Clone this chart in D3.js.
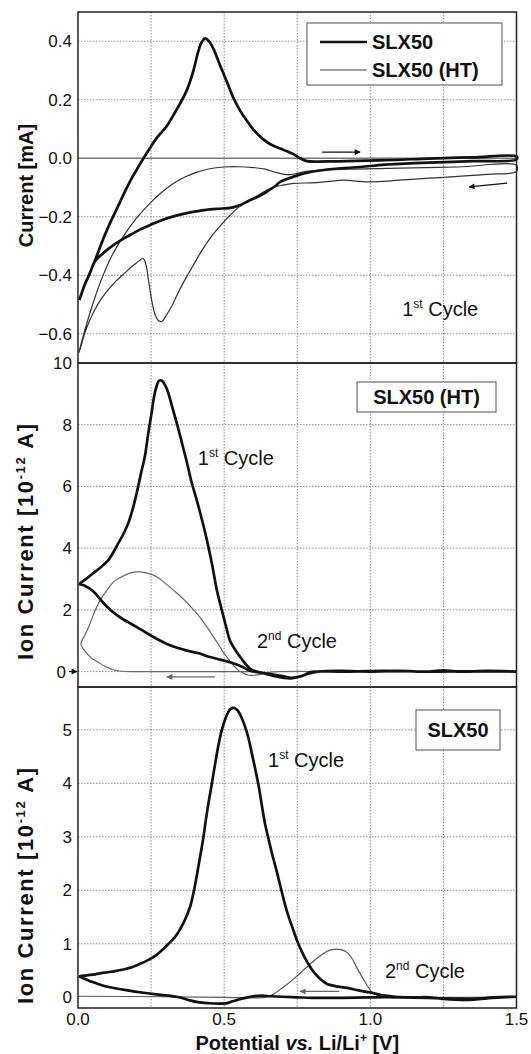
<!DOCTYPE html>
<html>
<head>
<meta charset="utf-8">
<script src="https://cdnjs.cloudflare.com/ajax/libs/d3/7.8.5/d3.min.js"></script>
<style>
  body { margin: 0; background: #fff; }
  text { font-family: "Liberation Sans", Arial, Helvetica, sans-serif; fill: #111; }
</style>
</head>
<body>
<svg id="main-svg"></svg>
<script>
// ---- data: [potential V, value] ----
let xTicks = [0, 0.5, 1.0, 1.5];
let xGrid = [0.25, 0.5, 0.75, 1.0, 1.25];

let cvTicks = [0.4, 0.2, 0.0, -0.2, -0.4, -0.6];
let ionHTTicks = [0, 2, 4, 6, 8, 10];
let ionSLXTicks = [0, 1, 2, 3, 4, 5];

// top panel, cyclic voltammograms (mA)
let cvSLX50 = [
  [0.005, -0.485], [0.02, -0.44], [0.035, -0.405], [0.058, -0.35], [0.075, -0.305], [0.092, -0.262],
  [0.115, -0.21], [0.138, -0.162], [0.16, -0.115], [0.184, -0.068], [0.205, -0.032], [0.224, 0.0],
  [0.245, 0.033], [0.264, 0.062], [0.285, 0.088], [0.304, 0.11], [0.325, 0.145], [0.348, 0.185],
  [0.372, 0.232], [0.395, 0.3], [0.41, 0.36], [0.422, 0.395], [0.435, 0.41], [0.448, 0.4],
  [0.463, 0.375], [0.485, 0.32], [0.509, 0.262], [0.53, 0.21], [0.555, 0.162], [0.58, 0.125],
  [0.6, 0.098], [0.63, 0.068], [0.658, 0.048], [0.692, 0.033], [0.715, 0.024], [0.737, 0.014],
  [0.76, 0.0], [0.783, -0.01], [0.85, -0.011], [0.95, -0.009], [1.08, -0.006], [1.2, -0.001],
  [1.35, 0.003], [1.5, 0.006],
  [1.5, -0.004], [1.35, -0.01], [1.2, -0.015], [1.05, -0.022], [0.966, -0.03], [0.88, -0.036],
  [0.795, -0.047], [0.74, -0.062], [0.692, -0.081], [0.675, -0.095], [0.64, -0.118], [0.61, -0.134],
  [0.583, -0.146], [0.555, -0.16], [0.526, -0.169], [0.475, -0.173], [0.424, -0.178], [0.38, -0.186],
  [0.332, -0.197], [0.29, -0.21], [0.252, -0.226], [0.21, -0.245], [0.172, -0.266], [0.135, -0.288],
  [0.104, -0.31], [0.08, -0.33], [0.058, -0.352], [0.04, -0.395], [0.02, -0.44], [0.005, -0.485]
];

let cvSLX50HT = [
  [0.003, -0.665], [0.02, -0.6], [0.05, -0.5], [0.08, -0.415], [0.115, -0.335], [0.15, -0.275],
  [0.2, -0.205], [0.25, -0.15], [0.3, -0.105], [0.35, -0.072], [0.4, -0.05], [0.45, -0.036],
  [0.5, -0.03], [0.55, -0.029], [0.6, -0.032], [0.64, -0.037], [0.675, -0.048], [0.7, -0.054],
  [0.726, -0.056], [0.75, -0.052], [0.78, -0.045], [0.85, -0.04], [0.95, -0.037], [1.1, -0.034],
  [1.3, -0.03], [1.5, -0.024],
  [1.5, -0.045], [1.4, -0.055], [1.3, -0.062], [1.19, -0.069], [1.1, -0.075], [1.0, -0.081],
  [0.95, -0.078], [0.91, -0.075], [0.85, -0.08], [0.8, -0.084], [0.737, -0.086], [0.7, -0.092],
  [0.658, -0.103], [0.62, -0.125], [0.583, -0.145], [0.549, -0.168], [0.52, -0.195], [0.492, -0.225],
  [0.458, -0.265], [0.424, -0.315], [0.395, -0.365], [0.366, -0.415], [0.34, -0.465], [0.32, -0.507],
  [0.3, -0.54], [0.287, -0.558], [0.275, -0.555], [0.264, -0.535], [0.255, -0.5], [0.247, -0.455],
  [0.24, -0.41], [0.235, -0.375], [0.228, -0.35], [0.222, -0.342], [0.21, -0.35], [0.2, -0.358],
  [0.184, -0.37], [0.161, -0.392], [0.13, -0.42], [0.104, -0.449], [0.08, -0.48], [0.058, -0.517],
  [0.04, -0.555], [0.024, -0.596], [0.007, -0.655]
];

// middle panel, SLX50 (HT) ion current (1e-12 A)
let ionHT1st = [
  [1.5, 0.0], [1.4, 0.02], [1.3, 0.0], [1.25, 0.04], [1.2, 0.0], [1.1, 0.02], [1.0, 0.0], [0.9, 0.02],
  [0.82, 0.0], [0.79, -0.06], [0.76, -0.16], [0.73, -0.22], [0.7, -0.2], [0.66, -0.12], [0.63, -0.04],
  [0.61, 0.0], [0.589, 0.09], [0.57, 0.28], [0.555, 0.47], [0.535, 0.75], [0.52, 1.0], [0.508, 1.4],
  [0.498, 1.77], [0.485, 2.25], [0.475, 2.64], [0.458, 3.5], [0.44, 4.3], [0.424, 4.92], [0.405, 5.6],
  [0.389, 6.12], [0.372, 6.8], [0.355, 7.43], [0.338, 8.05], [0.321, 8.62], [0.308, 9.05], [0.298, 9.28],
  [0.288, 9.42], [0.281, 9.44], [0.275, 9.4], [0.27, 9.28], [0.262, 9.0], [0.252, 8.4], [0.24, 7.7],
  [0.229, 6.99], [0.215, 6.4], [0.201, 5.79], [0.188, 5.3], [0.172, 4.81], [0.155, 4.45], [0.138, 4.16],
  [0.12, 3.85], [0.104, 3.61], [0.08, 3.4], [0.058, 3.23], [0.03, 3.02], [0.005, 2.83],
  [0.02, 2.8], [0.052, 2.6], [0.08, 2.3], [0.11, 2.0], [0.15, 1.72], [0.2, 1.45], [0.258, 1.12],
  [0.315, 0.85], [0.372, 0.68], [0.41, 0.6], [0.452, 0.47], [0.49, 0.38], [0.52, 0.3], [0.555, 0.18],
  [0.589, 0.03], [0.62, -0.03], [0.658, -0.08], [0.7, -0.15], [0.726, -0.2], [0.75, -0.18], [0.77, -0.13],
  [0.79, -0.03], [0.81, 0.0], [0.9, 0.0], [1.05, 0.02], [1.2, 0.0], [1.35, 0.01], [1.5, 0.0]
];

let ionHT2nd = [
  [1.5, 0.0], [1.2, 0.0], [0.9, 0.0], [0.7, 0.0], [0.66, -0.02], [0.63, -0.08], [0.6, -0.12], [0.585, -0.12],
  [0.565, -0.05], [0.55, 0.03], [0.532, 0.2], [0.515, 0.4], [0.497, 0.62], [0.486, 0.8], [0.465, 1.1],
  [0.441, 1.45], [0.418, 1.75], [0.4, 1.95], [0.384, 2.12], [0.355, 2.4], [0.326, 2.64], [0.3, 2.85],
  [0.269, 3.07], [0.24, 3.18], [0.212, 3.23], [0.19, 3.22], [0.167, 3.15], [0.145, 3.05], [0.121, 2.9],
  [0.1, 2.65], [0.075, 2.3], [0.055, 1.9], [0.041, 1.55], [0.025, 1.2], [0.01, 0.9], [0.025, 0.65],
  [0.045, 0.45], [0.07, 0.3], [0.09, 0.18], [0.12, 0.06], [0.15, 0.01], [0.2, 0.0], [0.4, 0.0], [0.6, 0.0]
];

// bottom panel, SLX50 ion current (1e-12 A)
let ionSLX1st = [
  [1.5, 0.01], [1.45, 0.0], [1.4, -0.02], [1.33, -0.05], [1.25, -0.03], [1.2, 0.0], [1.15, 0.0],
  [1.086, 0.01], [1.05, 0.03], [1.0, 0.09], [0.96, 0.13], [0.92, 0.175], [0.88, 0.21], [0.852, 0.25],
  [0.825, 0.36], [0.8, 0.52], [0.78, 0.7], [0.766, 0.85], [0.75, 1.05], [0.737, 1.25], [0.715, 1.6],
  [0.698, 1.95], [0.68, 2.35], [0.663, 2.7], [0.65, 3.0], [0.64, 3.24], [0.63, 3.55], [0.618, 3.95],
  [0.605, 4.3], [0.595, 4.55], [0.583, 4.85], [0.572, 5.05], [0.56, 5.22], [0.549, 5.34], [0.54, 5.39],
  [0.532, 5.41], [0.522, 5.39], [0.515, 5.34], [0.505, 5.22], [0.492, 5.0], [0.48, 4.7], [0.469, 4.36],
  [0.458, 4.0], [0.446, 3.62], [0.437, 3.3], [0.429, 2.99], [0.42, 2.7], [0.412, 2.45], [0.404, 2.2],
  [0.395, 1.95], [0.384, 1.7], [0.366, 1.45], [0.35, 1.28], [0.332, 1.13], [0.31, 1.0], [0.287, 0.88],
  [0.265, 0.78], [0.241, 0.7], [0.21, 0.62], [0.184, 0.56], [0.155, 0.52], [0.127, 0.49], [0.09, 0.46],
  [0.058, 0.43], [0.03, 0.41], [0.005, 0.39],
  [0.03, 0.33], [0.058, 0.27], [0.09, 0.21], [0.127, 0.17], [0.17, 0.13], [0.218, 0.09], [0.26, 0.06],
  [0.309, 0.03], [0.345, 0.0], [0.378, -0.05], [0.41, -0.09], [0.446, -0.11], [0.48, -0.12], [0.51, -0.11],
  [0.526, -0.08], [0.55, -0.04], [0.572, -0.01], [0.6, 0.02], [0.629, 0.03], [0.66, 0.02], [0.698, 0.01],
  [0.75, 0.0], [0.8, -0.01], [0.9, -0.01], [1.0, 0.0], [1.1, 0.0], [1.2, -0.01], [1.3, -0.03],
  [1.36, -0.03], [1.42, 0.0], [1.5, 0.01]
];

let ionSLX2nd = [
  [1.5, 0.0], [1.2, 0.0], [1.1, 0.0], [1.05, 0.01], [1.03, 0.03], [1.01, 0.07], [0.994, 0.18],
  [0.975, 0.35], [0.954, 0.55], [0.937, 0.73], [0.92, 0.84], [0.9, 0.89], [0.886, 0.9], [0.87, 0.89],
  [0.852, 0.86], [0.83, 0.78], [0.806, 0.68], [0.79, 0.6], [0.76, 0.45], [0.737, 0.34], [0.71, 0.22],
  [0.685, 0.12], [0.663, 0.04], [0.64, 0.0], [0.5, 0.0], [0.3, 0.01], [0.0, 0.02]
];

// ---- layout ----
let width = 531;
let height = 1054;
let left = 78;
let right = 516.5;

let svg = d3.select('#main-svg')
  .attr('width', width)
  .attr('height', height);

let x = d3.scaleLinear().domain([0, 1.5]).range([left, right]);
let line = d3.line()
  .x(d => x(d[0]))
  .y(d => d[1])
  .curve(d3.curveCatmullRom.alpha(0.5));

let panels = [
  { top: 12, bottom: 363, domain: [-0.7, 0.5], ticks: cvTicks, fmt: d3.format('.1f') },
  { top: 363, bottom: 687, domain: [-0.5, 10], ticks: ionHTTicks, fmt: d3.format('d') },
  { top: 687, bottom: 1008, domain: [-0.2, 5.8], ticks: ionSLXTicks, fmt: d3.format('d') }
];
panels.forEach(p => {
  p.y = d3.scaleLinear().domain(p.domain).range([p.bottom, p.top]);
});

let defs = svg.append('defs');
[['arrowBlack', '#111'], ['arrowGray', '#666']].forEach(([id, c]) => {
  defs.append('marker')
    .attr('id', id)
    .attr('viewBox', '0 0 10 10')
    .attr('refX', 9).attr('refY', 5)
    .attr('markerWidth', 9).attr('markerHeight', 6)
    .attr('markerUnits', 'userSpaceOnUse')
    .attr('orient', 'auto')
    .append('path').attr('d', 'M0,0 L10,5 L0,10 z').attr('fill', c);
});

function drawGrid(p) {
  let g = svg.append('g');
  g.selectAll('.vg').data(xGrid).enter().append('line')
    .attr('x1', d => x(d)).attr('x2', d => x(d))
    .attr('y1', p.top).attr('y2', p.bottom)
    .style('stroke', '#8a8a8a').style('stroke-width', 1).style('stroke-dasharray', '1.5,1.5');
  g.selectAll('.hg').data(p.ticks.filter(t => t !== 0 && p.y(t) > p.top + 2)).enter().append('line')
    .attr('x1', left).attr('x2', right)
    .attr('y1', d => p.y(d)).attr('y2', d => p.y(d))
    .style('stroke', '#8a8a8a').style('stroke-width', 1).style('stroke-dasharray', '1.5,1.5');
}

function drawAxis(p, zeroMarker) {
  let axis = d3.axisLeft(p.y).tickValues(p.ticks).tickSize(0).tickPadding(6).tickFormat(p.fmt);
  let g = svg.append('g').attr('transform', `translate(${left},0)`).call(axis);
  g.select('.domain').remove();
  g.selectAll('text').style('font-size', '17px').style('font-family', '"Liberation Sans", Arial, sans-serif').attr('fill', '#111');
  if (zeroMarker) {
    g.selectAll('.tick').filter(d => d === 0).select('text').attr('x', -12);
  }
}

function drawFrame(p) {
  svg.append('rect')
    .attr('x', left).attr('y', p.top)
    .attr('width', right - left).attr('height', p.bottom - p.top)
    .style('fill', 'none').style('stroke', '#222').style('stroke-width', 1.5);
}

function drawSeries(p, data, style) {
  svg.append('path')
    .datum(data.map(d => [d[0], p.y(d[1])]))
    .attr('d', line)
    .style('fill', 'none')
    .style('stroke', style.color)
    .style('stroke-width', style.width)
    .style('stroke-linejoin', 'round');
}

function drawArrow(p, from, to, marker, color) {
  svg.append('line')
    .attr('x1', x(from[0])).attr('y1', p.y(from[1]))
    .attr('x2', x(to[0])).attr('y2', p.y(to[1]))
    .style('stroke', color).style('stroke-width', 1.3)
    .attr('marker-end', `url(#${marker})`);
}

function cycleLabel(p, pos, num, sup) {
  let t = svg.append('text')
    .attr('x', x(pos[0])).attr('y', p.y(pos[1]))
    .style('font-size', '20px');
  t.append('tspan').text(num);
  t.append('tspan').attr('dy', -8).style('font-size', '12px').text(sup);
  t.append('tspan').attr('dy', 8).text(' Cycle');
}

function boxLabel(p, bx, by, bw, bh, label) {
  svg.append('rect')
    .attr('x', bx).attr('y', p.top + by).attr('width', bw).attr('height', bh)
    .style('fill', '#fff').style('stroke', '#777').style('stroke-width', 1.3);
  svg.append('text')
    .attr('x', bx + bw / 2).attr('y', p.top + by + bh / 2 + 7)
    .attr('text-anchor', 'middle')
    .style('font-size', '20px').style('font-weight', 'bold')
    .text(label);
}

let thick = { color: '#111', width: 2.7 };

// ---- top panel ----
let p1 = panels[0];
drawGrid(p1);
svg.append('line')
  .attr('x1', left).attr('x2', right).attr('y1', p1.y(0)).attr('y2', p1.y(0))
  .style('stroke', '#777').style('stroke-width', 1.3);
drawSeries(p1, cvSLX50HT, { color: '#333', width: 1.2 });
drawSeries(p1, cvSLX50, thick);
drawArrow(p1, [0.835, 0.021], [0.965, 0.021], 'arrowBlack', '#111');
drawArrow(p1, [1.468, -0.085], [1.338, -0.098], 'arrowBlack', '#111');
cycleLabel(p1, [1.109, -0.539], '1', 'st');

// legend
let lg = svg.append('g');
lg.append('rect').attr('x', 307).attr('y', 23).attr('width', 195).attr('height', 62)
  .style('fill', '#fff').style('stroke', '#777').style('stroke-width', 1.3);
[['SLX50', thick, 42], ['SLX50 (HT)', { color: '#444', width: 1.2 }, 70]].forEach(([name, st, yy]) => {
  lg.append('line').attr('x1', 320).attr('x2', 367).attr('y1', yy).attr('y2', yy)
    .style('stroke', st.color).style('stroke-width', st.width);
  lg.append('text').attr('x', 372).attr('y', yy + 7)
    .style('font-size', '20px').style('font-weight', 'bold').text(name);
});

// ---- middle panel ----
let p2 = panels[1];
drawGrid(p2);
svg.append('line')
  .attr('x1', left).attr('x2', right).attr('y1', p2.y(0)).attr('y2', p2.y(0))
  .style('stroke', '#8a8a8a').style('stroke-width', 1).style('stroke-dasharray', '1.5,1.5');
drawSeries(p2, ionHT2nd, { color: '#666', width: 1.2 });
drawSeries(p2, ionHT1st, thick);
drawArrow(p2, [0.469, -0.175], [0.304, -0.175], 'arrowGray', '#666');
cycleLabel(p2, [0.41, 6.69], '1', 'st');
cycleLabel(p2, [0.612, 0.765], '2', 'nd');
boxLabel(p2, 357, 19, 139, 30, 'SLX50 (HT)');

// ---- bottom panel ----
let p3 = panels[2];
drawGrid(p3);
drawSeries(p3, ionSLX2nd, { color: '#555', width: 1.2 });
drawSeries(p3, ionSLX1st, thick);
drawArrow(p3, [0.893, 0.11], [0.76, 0.11], 'arrowGray', '#666');
cycleLabel(p3, [0.65, 4.3], '1', 'st');
cycleLabel(p3, [1.05, 0.355], '2', 'nd');
boxLabel(p3, 416, 23, 84, 40, 'SLX50');

// frames and axes on top
panels.forEach((p, i) => { drawFrame(p); drawAxis(p, i === 1); });

// small marker at zero of middle panel
svg.append('line')
  .attr('x1', left - 9).attr('x2', left - 1).attr('y1', p2.y(0)).attr('y2', p2.y(0))
  .style('stroke', '#111').style('stroke-width', 1.3)
  .attr('marker-end', 'url(#arrowBlack)');

// x axis labels
svg.append('g').selectAll('text').data(xTicks).enter().append('text')
  .attr('x', d => x(d)).attr('y', 1025)
  .attr('text-anchor', 'middle')
  .style('font-size', '17px')
  .text(d => d3.format('.1f')(d));

// axis titles
function yTitle(main, sup, tail, cy, size, len) {
  let t = svg.append('text')
    .attr('transform', `translate(33,${cy}) rotate(-90)`)
    .attr('text-anchor', 'middle')
    .style('font-size', size + 'px').style('font-weight', 'bold');
  if (len) t.attr('textLength', len).attr('lengthAdjust', 'spacing');
  t.append('tspan').text(main);
  if (sup) {
    t.append('tspan').attr('dy', -8).style('font-size', '13px').text(sup);
    t.append('tspan').attr('dy', 8).text(tail);
  }
}
yTitle('Current [mA]', null, null, (p1.top + p1.bottom) / 2 - 2, 20);
yTitle('Ion Current [10', '-12', ' A]', 542, 22, 236);
yTitle('Ion Current [10', '-12', ' A]', 886, 22, 236);

let xt = svg.append('text')
  .attr('x', (left + right) / 2).attr('y', 1050)
  .attr('text-anchor', 'middle')
  .style('font-size', '20px').style('font-weight', 'bold');
xt.append('tspan').text('Potential ');
xt.append('tspan').style('font-style', 'italic').text('vs.');
xt.append('tspan').text(' Li/Li');
xt.append('tspan').attr('dy', -8).style('font-size', '12px').text('+');
xt.append('tspan').attr('dy', 8).text(' [V]');
</script>
</body>
</html>
